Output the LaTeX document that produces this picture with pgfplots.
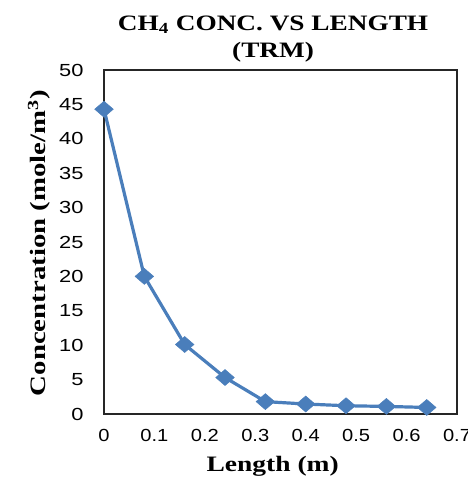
\documentclass[border=0pt]{standalone}
\usepackage{pgfplots}
\pgfplotsset{compat=1.18}
\usepackage{fontspec}
\setmainfont{Liberation Serif}
\newfontfamily\tickfont{Liberation Sans}
\definecolor{excelblue}{HTML}{4A7EBB}
\begin{document}
\begin{tikzpicture}[x=1pt,y=1pt]
\begin{axis}[
  scale only axis,
  width=353pt, height=344pt,
  at={(104pt,66pt)}, anchor=origin,
  xmin=0, xmax=0.7, ymin=0, ymax=50,
  xtick={0,0.1,...,0.7}, ytick={0,5,...,50},
  major tick length=0pt,
  axis line style={line width=1.8pt, draw=black!85},
  /pgf/number format/assume math mode=true,
  /pgf/number format/fixed,
  xticklabel={\scalebox{1.15}[1]{\tickfont\fontsize{17.5}{20}\selectfont\pgfmathprintnumber{\tick}}},
  yticklabel={\scalebox{1.25}[1]{\tickfont\fontsize{17.5}{20}\selectfont\pgfmathprintnumber{\tick}}},
  xticklabel style={yshift=-12pt},
  yticklabel style={xshift=-17pt},
  title={\scalebox{1.24}[1]{\begin{tabular}{c}CH\textsubscript{4} CONC. VS LENGTH\\[1pt](TRM)\end{tabular}}},
  title style={at={(axis description cs:0.479,1.074)}, anchor=center, font=\bfseries\fontsize{22}{26}\selectfont, inner sep=0pt},
  xlabel={\scalebox{1.25}[1]{Length (m)}},
  xlabel style={at={(axis description cs:0.478,-0.152)}, anchor=center, font=\bfseries\fontsize{22}{26}\selectfont, inner sep=0pt},
  ylabel={\scalebox{1.31}[1]{Concentration (mole/m\textsuperscript{3})}},
  ylabel style={at={(axis description cs:-0.184,0.497)}, anchor=center, rotate=0, font=\bfseries\fontsize{22}{26}\selectfont, inner sep=0pt},
  clip=false,
]
\addplot[color=excelblue, line width=3.2pt, mark=diamond*, mark size=8pt,
  mark options={xscale=1.55, solid, fill=excelblue, draw=excelblue, line width=0.5pt}]
  coordinates {
  (0,44.3) (0.08,20.0) (0.16,10.1) (0.24,5.3) (0.32,1.8)
  (0.40,1.45) (0.48,1.2) (0.56,1.1) (0.64,0.95)
  };
\end{axis}
\pgfresetboundingbox
\useasboundingbox (0,0) rectangle (468pt,480pt);
\end{tikzpicture}
\end{document}
